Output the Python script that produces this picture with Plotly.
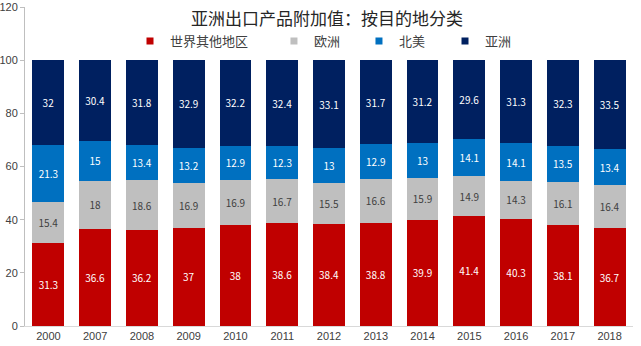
import plotly.graph_objects as go

# Asia export value added, share by destination (%)
years = ["2000", "2007", "2008", "2009", "2010", "2011", "2012",
         "2013", "2014", "2015", "2016", "2017", "2018"]
rest_of_world = [31.3, 36.6, 36.2, 37, 38, 38.6, 38.4, 38.8, 39.9, 41.4, 40.3, 38.1, 36.7]
europe = [15.4, 18, 18.6, 16.9, 16.9, 16.7, 15.5, 16.6, 15.9, 14.9, 14.3, 16.1, 16.4]
north_america = [21.3, 15, 13.4, 13.2, 12.9, 12.3, 13, 12.9, 13, 14.1, 14.1, 13.5, 13.4]
asia = [32, 30.4, 31.8, 32.9, 32.2, 32.4, 33.1, 31.7, 31.2, 29.6, 31.3, 32.3, 33.5]

series = [
    ("世界其他地区", rest_of_world, "#C00000", "#FFFFFF"),
    ("欧洲", europe, "#BFBFBF", "#404040"),
    ("北美", north_america, "#0070C0", "#FFFFFF"),
    ("亚洲", asia, "#002060", "#FFFFFF"),
]

# one legend box per series so each key sits at its own spot
legend_ids = ["legend", "legend2", "legend3", "legend4"]
legend_x = [0.1727, 0.4095, 0.5493, 0.6908]

cjk = "Noto Sans CJK SC"

fig = go.Figure()
for (name, vals, color, txtcolor), lid in zip(series, legend_ids):
    fig.add_trace(go.Bar(
        x=years, y=vals, name=name, showlegend=False,
        marker=dict(color=color, line=dict(width=0)),
        text=[f"{v:g}" for v in vals],
        textposition="inside", insidetextanchor="middle", textangle=0,
        textfont=dict(family=cjk, size=10, color=txtcolor),
        hoverinfo="x+y+name",
    ))
    # small square legend key
    fig.add_trace(go.Scatter(
        x=[None], y=[None], name=name, mode="markers", legend=lid,
        marker=dict(symbol="square", size=7, color=color),
        hoverinfo="skip",
    ))

legend_style = dict(orientation="h", xanchor="left", y=0.893, yanchor="middle",
                    font=dict(family=cjk, size=13, color="#404040"),
                    bgcolor="rgba(0,0,0,0)")

fig.update_layout(
    barmode="stack",
    bargap=0.32,
    width=641, height=346,
    margin=dict(l=25, r=8, t=7, b=20, autoexpand=False),
    paper_bgcolor="white", plot_bgcolor="white",
    font=dict(family="Liberation Sans, Arial", size=11, color="#404040"),
    title=dict(text="亚洲出口产品附加值：按目的地分类", x=0.51, xanchor="center",
               y=0.945, yanchor="middle",
               font=dict(family=cjk, size=17, color="#262626")),
    uniformtext=dict(minsize=8, mode="show"),
)
for lid, lx in zip(legend_ids, legend_x):
    fig.update_layout({lid: dict(legend_style, x=lx)})

fig.update_xaxes(showline=True, linecolor="#D9D9D9", linewidth=1, ticks="",
                 tickfont=dict(size=11, color="#404040"), showgrid=False,
                 automargin=False)
fig.update_yaxes(range=[0, 120], dtick=20, showgrid=False, zeroline=False,
                 showline=True, linecolor="#BFBFBF", linewidth=1,
                 ticks="outside", ticklen=4, tickcolor="#BFBFBF",
                 tickfont=dict(size=11, color="#404040"), automargin=False)

fig.write_html("out.html")
